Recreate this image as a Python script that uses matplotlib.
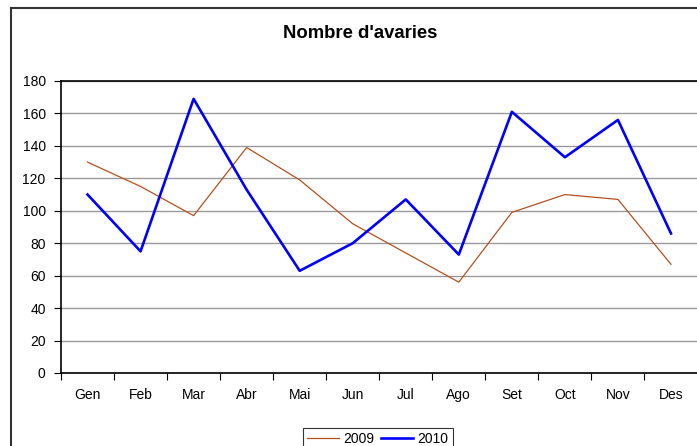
import matplotlib.pyplot as plt
from matplotlib.lines import Line2D

plt.rcParams['font.family'] = ['Liberation Sans', 'DejaVu Sans']

months = ['Gen', 'Feb', 'Mar', 'Abr', 'Mai', 'Jun', 'Jul', 'Ago', 'Set', 'Oct', 'Nov', 'Des']
y2009 = [130, 115, 97, 139, 119, 92, 74, 56, 99, 110, 107, 67]
y2010 = [110, 75, 169, 113, 63, 80, 107, 73, 161, 133, 156, 86]

fig = plt.figure(figsize=(6.97, 4.46), dpi=100)

# outer chart border (left and top visible)
fig.add_artist(Line2D([10.5 / 697, 10.5 / 697], [0, 1 - 7.5 / 446], color='#333333', lw=1.5))
fig.add_artist(Line2D([10.5 / 697, 1], [1 - 7.5 / 446, 1 - 7.5 / 446], color='#333333', lw=1.5))

ax = fig.add_axes([61 / 697, 1 - 373 / 446, (697.5 - 61) / 697, (373 - 81) / 446])
x = range(len(months))
ax.plot(x, y2009, color='#B4501E', lw=0.9, label='2009')
ax.plot(x, y2010, color='#0000FF', lw=1.9, label='2010')

ax.set_xlim(-0.5, 11.5)
ax.set_ylim(0, 180)
ax.set_yticks(range(0, 181, 20))
ax.set_xticks([i + 0.5 for i in range(-1, 12)], minor=False)
ax.set_xticklabels([])
ax.set_xticks(list(x), minor=True)
ax.set_xticklabels(months, minor=True)
ax.tick_params(axis='x', which='minor', length=0, pad=11, labelsize=10)
ax.tick_params(axis='x', which='major', length=5, direction='out')
ax.tick_params(axis='y', length=5, direction='out', labelsize=10, pad=6)
ax.grid(axis='y', color='#999999', lw=1)
ax.set_axisbelow(True)
for s in ['left', 'bottom', 'top']:
    ax.spines[s].set_color('black')
    ax.spines[s].set_linewidth(1.2)
ax.spines['right'].set_visible(False)

fig.text(360 / 697, 1 - 33 / 446, "Nombre d'avaries", ha='center', va='center',
         fontsize=13.3, fontweight='bold')

leg = fig.legend(loc='upper center', bbox_to_anchor=(378 / 697, 1 - 421 / 446), ncol=2,
                 frameon=True, fancybox=False, edgecolor='black', fontsize=10,
                 handlelength=2.3, handletextpad=0.3, columnspacing=0.5,
                 borderpad=0.3)
leg.get_frame().set_linewidth(0.8)

fig.savefig('out.png', dpi=100)
